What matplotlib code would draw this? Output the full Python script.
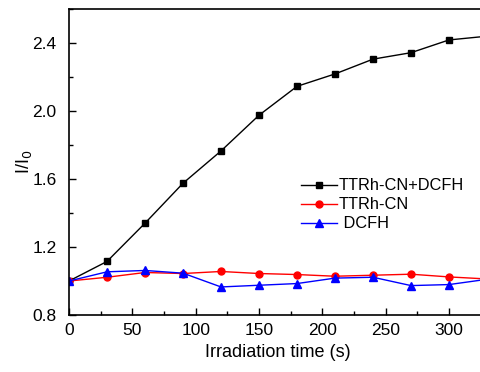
import matplotlib
matplotlib.use("Agg")
import matplotlib.pyplot as plt
from matplotlib.ticker import MultipleLocator

plt.rcParams['font.family'] = ['Liberation Sans', 'DejaVu Sans']

# data
time_s = [0, 30, 60, 90, 120, 150, 180, 210, 240, 270, 300, 330]
ttrh_dcfh = [1.0, 1.115, 1.34, 1.575, 1.765, 1.975, 2.145, 2.218, 2.305, 2.343, 2.418, 2.44]
ttrh = [1.0, 1.022, 1.05, 1.044, 1.056, 1.044, 1.038, 1.028, 1.034, 1.04, 1.024, 1.012]
dcfh = [1.0, 1.054, 1.062, 1.046, 0.965, 0.975, 0.985, 1.017, 1.022, 0.973, 0.979, 1.01]

fig = plt.figure(figsize=(4.8, 3.72), dpi=100)
ax = fig.add_axes([69/480, 57/372, 418/480, 306/372])

ax.plot(time_s, ttrh_dcfh, color='black', marker='s', markersize=5, linewidth=1, label='TTRh-CN+DCFH')
ax.plot(time_s, ttrh, color='red', marker='o', markersize=5, linewidth=1, label='TTRh-CN')
ax.plot(time_s, dcfh, color='blue', marker='^', markersize=6, linewidth=1, label=' DCFH')

ax.set_xlim(0, 330)
ax.set_ylim(0.8, 2.6)
ax.xaxis.set_major_locator(MultipleLocator(50))
ax.xaxis.set_minor_locator(MultipleLocator(25))
ax.yaxis.set_major_locator(MultipleLocator(0.4))
ax.yaxis.set_minor_locator(MultipleLocator(0.2))
ax.tick_params(which='both', direction='in', labelsize=12.5, width=1)
ax.tick_params(which='major', length=5)
ax.tick_params(which='minor', length=3)
ax.tick_params(axis='y', pad=9)
ax.tick_params(axis='x', pad=6)
for s in ax.spines.values():
    s.set_linewidth(1.2)

ax.set_xlabel('Irradiation time (s)', fontsize=13, labelpad=4)
ax.set_ylabel('I/I$_0$', fontsize=13, labelpad=-1)

ax.legend(loc='upper left', bbox_to_anchor=(0.52, 0.495), frameon=False, fontsize=11.8,
          handlelength=2.2, handletextpad=0.1, labelspacing=0.25)

fig.savefig('out.png')
